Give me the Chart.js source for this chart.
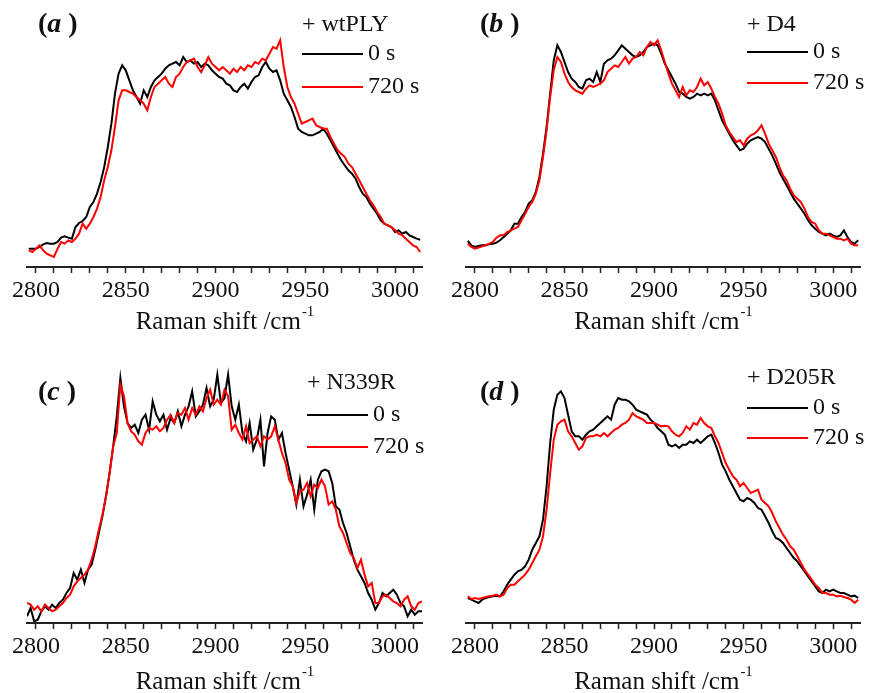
<!DOCTYPE html>
<html>
<head>
<meta charset="utf-8">
<script src="https://cdn.jsdelivr.net/npm/chart.js@4.4.1/dist/chart.umd.min.js"></script>
<style>
  html, body { margin: 0; padding: 0; background: #fff; }
  #wrap { position: relative; width: 869px; height: 693px; }
  canvas { position: absolute; }
</style>
</head>
<body>
<div id="wrap">
  <canvas id="chartA" width="434" height="340" style="left:0;top:0"></canvas>
  <canvas id="chartB" width="430" height="340" style="left:439px;top:0"></canvas>
  <canvas id="chartC" width="434" height="353" style="left:0;top:340px"></canvas>
  <canvas id="chartD" width="430" height="353" style="left:439px;top:340px"></canvas>
</div>
<script>
// Raman shift grid (cm-1) of the sampled points
function range(start, end, step) {
    const out = [];
    for (let v = start; v <= end; v += step) out.push(v);
    return out;
}
const wtplyShift = range(2796, 3014, 2);
const d4Shift = range(2796, 3014, 2);
const n339rShift = range(2795, 3015, 2);
const d205rShift = range(2796, 3014, 2);

// x axis ticks
const tickMarks = [2800, 2810, 2820, 2830, 2840, 2850, 2860, 2870, 2880, 2890, 2900,
    2910, 2920, 2930, 2940, 2950, 2960, 2970, 2980, 2990, 3000, 3010];
const tickLabels = [2800, 2850, 2900, 2950, 3000];

// intensities (a.u.)
const wtply0s = [55,55,55,60,68,72,70,70,75,88,
    92,88,85,120,132,138,150,180,195,220,
    255,300,360,430,520,580,605,590,560,530,
    510,490,530,510,540,560,570,580,595,605,
    610,615,605,630,615,620,610,615,600,610,
    605,590,580,570,565,550,545,530,525,540,
    550,535,555,570,575,600,615,595,585,590,
    560,520,500,480,450,415,405,400,395,395,
    400,405,415,400,380,360,340,320,305,290,
    280,265,240,220,210,190,175,160,140,130,
    125,120,105,110,100,105,95,90,85,82];
const wtply720s = [50,45,55,65,50,40,35,30,55,75,
    70,80,75,85,100,130,115,130,150,175,
    210,260,300,350,420,500,530,530,525,520,
    510,500,490,470,510,540,550,560,570,550,
    540,570,580,600,615,620,625,600,585,605,
    630,610,600,590,600,590,580,595,585,600,
    590,605,600,615,610,625,620,640,660,655,
    680,600,540,510,490,460,430,435,440,445,
    425,420,415,415,390,370,350,340,330,310,
    300,280,260,240,220,200,185,165,150,130,
    125,120,110,100,95,85,75,65,60,45];

const d4_0s = [78,65,60,63,65,65,68,70,73,80,
    90,100,110,130,130,150,165,190,200,225,
    270,340,420,520,620,665,645,615,585,565,
    555,540,535,560,565,555,585,555,610,620,
    625,635,650,665,655,645,635,630,635,645,
    660,665,670,665,640,610,590,570,550,525,
    520,510,505,510,520,515,520,515,520,500,
    470,440,420,400,380,365,350,355,370,380,
    385,390,385,375,355,335,310,285,265,245,
    225,205,190,175,160,140,125,115,105,100,
    95,100,95,90,95,110,90,75,70,80];
const d4_720s = [70,60,55,58,62,65,70,75,88,95,
    95,105,110,115,120,140,160,180,195,220,
    260,330,410,510,590,630,615,580,555,540,
    530,525,520,535,545,540,545,550,560,585,
    595,605,600,615,630,610,625,630,645,635,
    660,675,665,680,650,615,580,550,530,510,
    540,515,530,525,540,565,545,555,535,510,
    490,460,425,405,390,375,380,365,385,395,
    400,410,425,400,370,350,330,300,275,260,
    235,215,205,195,175,150,135,130,110,100,
    100,95,90,85,85,80,85,70,65,65];

const n339r0s = [20,45,5,10,35,50,40,55,45,60,
    70,90,105,150,130,160,120,160,175,220,
    270,320,380,450,530,620,735,650,600,585,
    595,570,610,625,580,665,625,605,625,580,
    615,600,635,590,625,650,695,620,635,655,
    705,650,670,745,660,675,745,650,610,655,
    570,545,600,520,550,610,470,570,620,610,
    550,570,510,460,410,355,430,350,385,430,
    340,430,455,460,455,420,350,340,300,270,
    230,190,160,140,120,90,70,40,60,90,
    80,90,100,85,60,50,20,40,25,35,35];
const n339r720s = [60,55,40,50,35,55,45,35,40,50,
    60,75,85,110,125,135,145,160,190,230,
    280,325,380,450,530,570,715,680,600,575,
    565,545,535,570,585,580,590,575,585,610,
    625,600,630,625,645,610,645,625,650,635,
    675,700,655,670,655,700,680,580,595,570,
    550,590,540,550,560,530,560,550,560,590,
    550,510,480,430,410,360,395,400,420,380,
    415,405,430,410,355,365,340,290,270,240,
    210,195,165,190,145,110,120,60,60,80,
    85,75,65,60,50,70,80,50,40,60,65];

const d205r0s = [75,70,65,60,70,75,78,80,82,80,
    95,115,130,145,155,160,170,190,220,240,
    260,310,410,540,640,685,695,675,625,575,
    560,560,550,565,575,580,590,600,610,620,
    610,655,675,670,670,665,655,640,635,630,
    625,610,600,585,575,565,535,530,535,525,
    535,535,545,540,550,540,550,560,565,540,
    510,475,455,430,410,390,370,365,375,370,
    360,345,340,320,300,275,255,250,240,225,
    210,195,185,170,155,140,125,110,95,90,
    100,95,100,95,90,90,85,80,82,75];
const d205r720s = [80,72,75,72,75,78,80,82,85,80,
    85,105,115,115,125,135,145,160,180,200,
    220,260,340,450,550,595,605,610,575,560,
    540,520,530,555,560,560,565,560,570,560,
    570,580,585,595,600,610,630,620,615,610,
    600,600,600,595,590,592,590,575,565,560,
    570,590,580,600,595,615,600,590,585,560,
    540,510,480,460,440,430,410,420,405,390,
    395,400,370,360,350,330,305,285,265,250,
    230,220,200,180,160,145,130,115,105,90,
    90,85,85,80,82,78,75,70,60,70];

const FONT = '"Liberation Serif", "Times New Roman", serif';

// etiquetas del panel, leyenda y título del eje
const decorPlugin = {
    id: 'decor',
    afterDraw(chart, args, o) {
        const ctx = chart.ctx;
        const area = chart.chartArea;
        ctx.save();
        ctx.fillStyle = '#111';
        ctx.textBaseline = 'middle';
        ctx.textAlign = 'left';

        // (a ) style tag
        let x = o.tagX;
        ctx.font = 'bold 28px ' + FONT;
        ctx.fillText('(', x, o.tagY);
        x += ctx.measureText('(').width;
        ctx.font = 'italic bold 28px ' + FONT;
        ctx.fillText(o.tag, x, o.tagY);
        x += ctx.measureText(o.tag).width + 7;
        ctx.font = 'bold 28px ' + FONT;
        ctx.fillText(')', x, o.tagY);

        // legend
        ctx.font = '24px ' + FONT;
        ctx.fillText(o.sample, o.legX, o.headY);
        chart.data.datasets.forEach((ds, i) => {
            const y = o.rowY[i];
            ctx.strokeStyle = ds.borderColor;
            ctx.lineWidth = 2.2;
            ctx.beginPath();
            ctx.moveTo(o.legX, y);
            ctx.lineTo(o.legX + o.lineLen, y);
            ctx.stroke();
            ctx.fillText(ds.label, o.legX + o.lineLen + 5, y);
        });

        // axis title with superscript
        const main = 'Raman shift /cm';
        const sup = '-1';
        ctx.font = '25px ' + FONT;
        const wMain = ctx.measureText(main).width;
        ctx.font = '15px ' + FONT;
        const wSup = ctx.measureText(sup).width;
        const tx = (area.left + area.right) / 2 - (wMain + wSup) / 2;
        const ty = area.bottom + o.titleOffset;
        ctx.font = '25px ' + FONT;
        ctx.fillText(main, tx, ty);
        ctx.font = '15px ' + FONT;
        ctx.fillText(sup, tx + wMain + 1, ty - 10);
        ctx.restore();
    }
};

function makePanel(id, shift, zero, later, p) {
    const toXY = (ys) => shift.map((x, i) => ({ x: x, y: ys[i] }));
    return new Chart(document.getElementById(id).getContext('2d'), {
        type: 'line',
        data: {
            datasets: [{
                label: '0 s',
                data: toXY(zero),
                borderColor: '#000000',
                borderWidth: 2,
                pointRadius: 0,
                tension: 0,
                order: 1
            }, {
                label: '720 s',
                data: toXY(later),
                borderColor: '#ff0000',
                borderWidth: 2,
                pointRadius: 0,
                tension: 0,
                order: 0
            }]
        },
        options: {
            responsive: false,
            animation: false,
            layout: { padding: { left: 27, right: p.padRight, top: 10, bottom: 0 } },
            plugins: {
                legend: { display: false },
                tooltip: { enabled: false },
                decor: p
            },
            scales: {
                x: {
                    type: 'linear',
                    min: 2795,
                    max: 3015,
                    afterBuildTicks: (s) => { s.ticks = tickMarks.map(v => ({ value: v })); },
                    afterFit: (s) => { s.height = p.axisH; },
                    border: { display: true, width: 2, color: '#222' },
                    grid: {
                        drawOnChartArea: false,
                        drawTicks: true,
                        tickLength: 6,
                        tickWidth: 1.5,
                        tickColor: '#222'
                    },
                    ticks: {
                        autoSkip: false,
                        maxRotation: 0,
                        padding: 3,
                        color: '#111',
                        font: { family: FONT, size: 24 },
                        callback: (v) => tickLabels.includes(v) ? String(v) : ''
                    }
                },
                y: { display: false, min: 0, max: p.yMax }
            }
        },
        plugins: [decorPlugin]
    });
}

makePanel('chartA', wtplyShift, wtply0s, wtply720s, {
    tag: 'a', sample: '+ wtPLY', padRight: 12, axisH: 73, yMax: 771,
    tagX: 38, tagY: 25, legX: 302, headY: 25, rowY: [54, 87], lineLen: 61, titleOffset: 55
});
makePanel('chartB', d4Shift, d4_0s, d4_720s, {
    tag: 'b', sample: '+ D4', padRight: 9, axisH: 73, yMax: 771,
    tagX: 41, tagY: 25, legX: 308, headY: 25, rowY: [52, 83], lineLen: 61, titleOffset: 55
});
makePanel('chartC', n339rShift, n339r0s, n339r720s, {
    tag: 'c', sample: '+ N339R', padRight: 12, axisH: 70, yMax: 819,
    tagX: 38, tagY: 53, legX: 307, headY: 43, rowY: [75, 107], lineLen: 61, titleOffset: 59
});
makePanel('chartD', d205rShift, d205r0s, d205r720s, {
    tag: 'd', sample: '+ D205R', padRight: 9, axisH: 70, yMax: 819,
    tagX: 41, tagY: 53, legX: 308, headY: 38, rowY: [68, 98], lineLen: 61, titleOffset: 59
});
</script>
</body>
</html>
